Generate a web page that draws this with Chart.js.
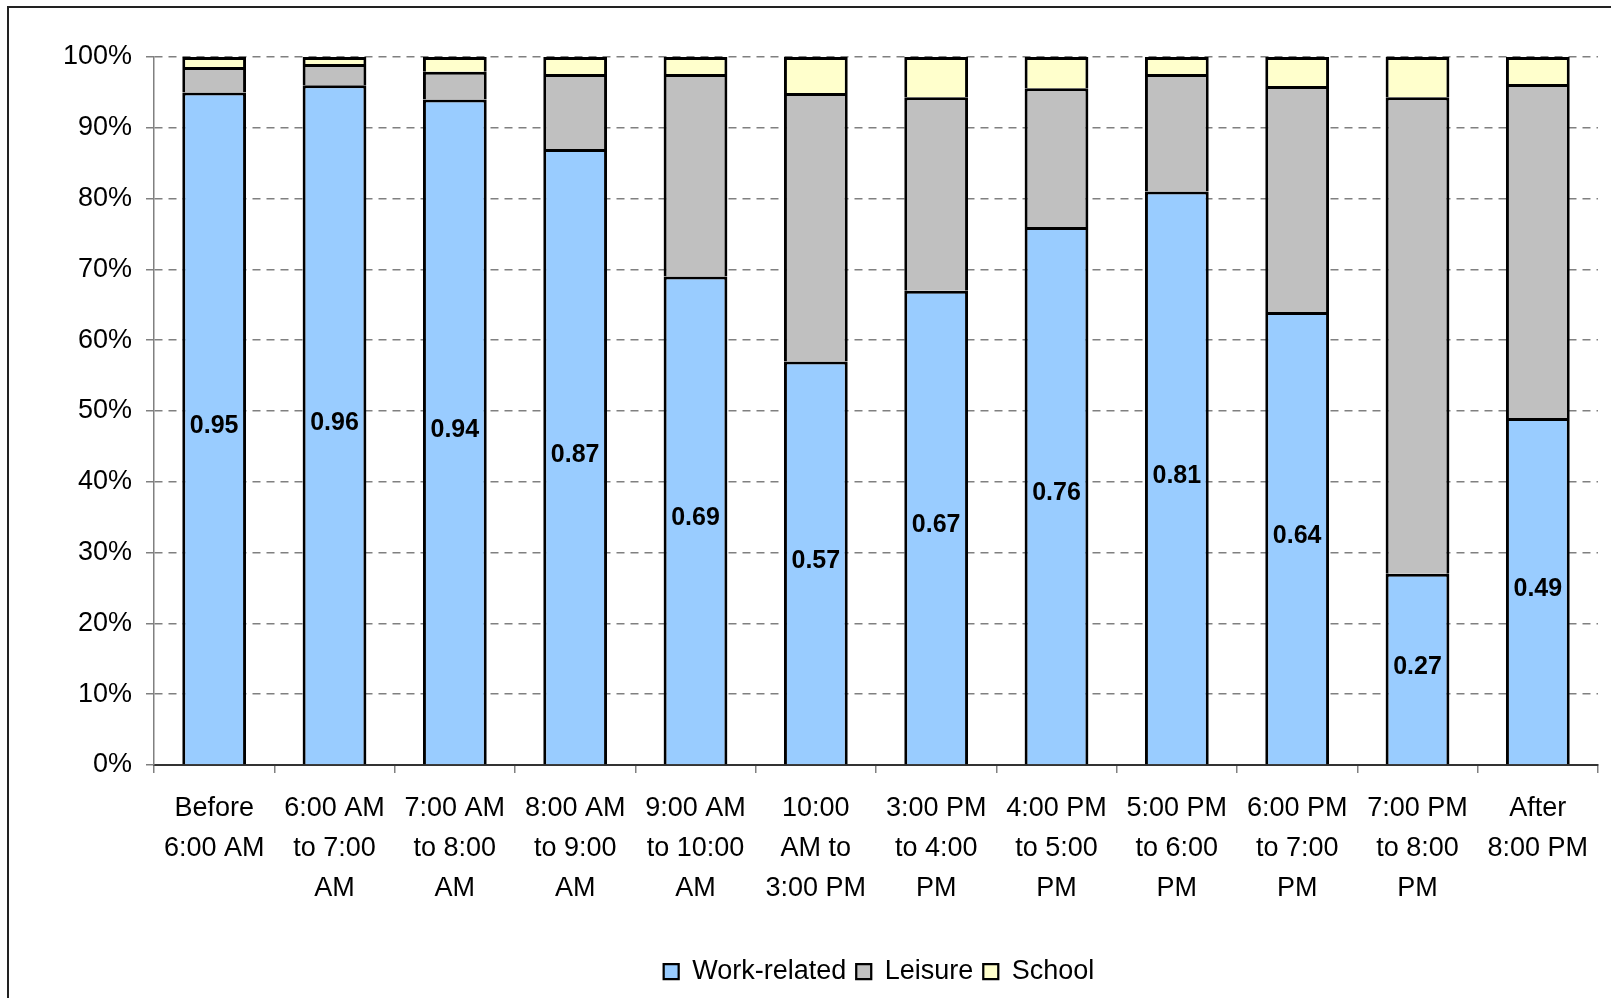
<!DOCTYPE html>
<html>
<head>
<meta charset="utf-8">
<script src="https://cdn.jsdelivr.net/npm/chart.js@4"></script>
<style>
html, body { margin: 0; padding: 0; background: #fff; overflow: hidden; }
</style>
</head>
<body>
<canvas id="chart" width="1611" height="998"></canvas>
<script>
const categories = [
    ["Before", "6:00 AM"],
    ["6:00 AM", "to 7:00", "AM"],
    ["7:00 AM", "to 8:00", "AM"],
    ["8:00 AM", "to 9:00", "AM"],
    ["9:00 AM", "to 10:00", "AM"],
    ["10:00", "AM to", "3:00 PM"],
    ["3:00 PM", "to 4:00", "PM"],
    ["4:00 PM", "to 5:00", "PM"],
    ["5:00 PM", "to 6:00", "PM"],
    ["6:00 PM", "to 7:00", "PM"],
    ["7:00 PM", "to 8:00", "PM"],
    ["After", "8:00 PM"]
];
const workRelated = [0.95, 0.96, 0.94, 0.87, 0.69, 0.57, 0.67, 0.76, 0.81, 0.64, 0.27, 0.49];
const leisure = [0.036, 0.030, 0.039, 0.106, 0.286, 0.379, 0.273, 0.196, 0.166, 0.319, 0.673, 0.472];
const school = [0.014, 0.010, 0.021, 0.024, 0.024, 0.051, 0.057, 0.044, 0.024, 0.041, 0.057, 0.038];

const FONT = "'Liberation Sans', Arial, sans-serif";
Chart.defaults.font.family = FONT;
Chart.defaults.color = "#000";

// frame round the chart (only left and top show in the picture)
const frame = {
    id: "frame",
    beforeDraw(chart) {
        const ctx = chart.ctx;
        ctx.save();
        ctx.strokeStyle = "#222";
        ctx.lineWidth = 2;
        ctx.beginPath();
        ctx.moveTo(8, 998);
        ctx.lineTo(8, 7);
        ctx.lineTo(1611, 7);
        ctx.stroke();
        ctx.restore();
    }
};

// the legend sits right of centre in the original
const legendShift = {
    id: "legendShift",
    afterLayout(chart) {
        chart.legend.left += 80;
        chart.legend.right += 80;
    }
};

// value labels in the middle of the work-related segment
const workLabels = {
    id: "workLabels",
    afterDatasetsDraw(chart) {
        const ctx = chart.ctx;
        const meta = chart.getDatasetMeta(0);
        ctx.save();
        ctx.font = "bold 25px " + FONT;
        ctx.fillStyle = "#000";
        ctx.textAlign = "center";
        ctx.textBaseline = "middle";
        meta.data.forEach((bar, i) => {
            const p = bar.getProps(["x", "y", "base"], true);
            ctx.fillText(workRelated[i].toFixed(2), p.x, (p.y + p.base) / 2 - 2);
        });
        ctx.restore();
    }
};

const segBorder = { top: 3, left: 3, right: 3, bottom: 0 };

new Chart(document.getElementById("chart"), {
    type: "bar",
    data: {
        labels: categories,
        datasets: [
            { label: "Work-related", data: workRelated, backgroundColor: "#99CCFF" },
            { label: "Leisure", data: leisure, backgroundColor: "#C0C0C0" },
            { label: "School", data: school, backgroundColor: "#FFFFCC" }
        ].map(d => Object.assign(d, {
            borderColor: "#000",
            borderWidth: segBorder,
            borderSkipped: false,
            barPercentage: 0.53,
            categoryPercentage: 1
        }))
    },
    options: {
        responsive: false,
        animation: false,
        layout: { padding: { top: 57, right: 13, bottom: 3, left: 0 } },
        plugins: {
            tooltip: { enabled: false },
            legend: {
                position: "bottom",
                labels: {
                    boxWidth: 15,
                    boxHeight: 15,
                    padding: 10,
                    color: "#000",
                    font: { size: 27 }
                }
            }
        },
        scales: {
            x: {
                stacked: true,
                afterFit(scale) { scale.height = 183; },
                grid: {
                    display: true,
                    drawOnChartArea: false,
                    drawTicks: true,
                    tickLength: 8,
                    color: "#808080",
                    lineWidth: 1.5
                },
                border: { display: true, color: "#333", width: 2 },
                ticks: {
                    padding: 16,
                    maxRotation: 0,
                    autoSkip: false,
                    color: "#000",
                    font: { size: 27, lineHeight: 1.48 }
                }
            },
            y: {
                stacked: true,
                min: 0,
                max: 1,
                afterFit(scale) { scale.width = 154; },
                grid: {
                    color: "#808080",
                    lineWidth: 1.5,
                    tickLength: 8,
                    drawTicks: true
                },
                border: { display: true, color: "#808080", width: 1.5, dash: [8, 6] },
                ticks: {
                    stepSize: 0.1,
                    padding: 14,
                    color: "#000",
                    font: { size: 27 },
                    callback: v => Math.round(v * 100) + "%"
                }
            }
        }
    },
    plugins: [frame, legendShift, workLabels]
});
</script>
</body>
</html>
